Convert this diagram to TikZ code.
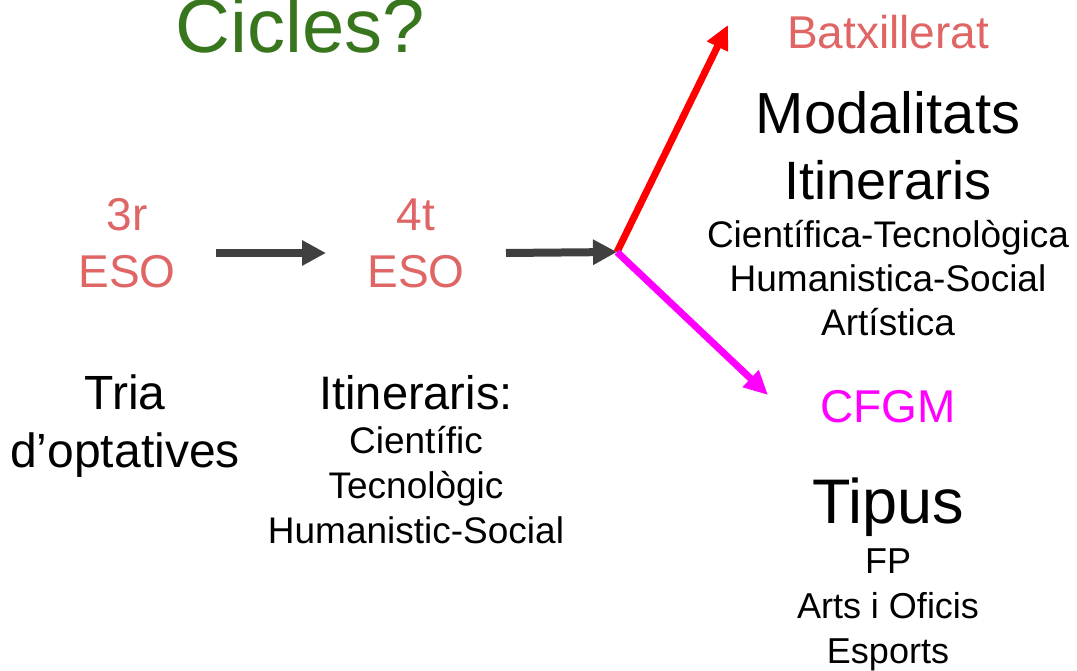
\documentclass[tikz,border=0pt]{standalone}
\usepackage{fontspec}
\setmainfont{Liberation Sans}
\usepackage{tikz}
\usetikzlibrary{arrows.meta}
\definecolor{titlegreen}{HTML}{38761D}
\definecolor{salmon}{HTML}{E06666}
\definecolor{darkgray}{HTML}{404040}
\definecolor{pinkline}{HTML}{FF00FF}
\tikzset{
    txt/.style={anchor=base, inner sep=0pt, align=center},
    stage/.style={txt, text=salmon, font=\fontsize{46}{58}\selectfont},
    big/.style={txt, font=\fontsize{#1}{#1}\selectfont},
    small/.style={txt, font=\fontsize{37}{45}\selectfont},
    grayarrow/.style={darkgray, line width=8pt, -{Triangle[length=24pt,width=24pt]}},
    fork/.style={line width=7pt, -{Triangle[length=24pt,width=22pt]}}}

\begin{document}
\begin{tikzpicture}[x=1pt, y=-1pt]

            \useasboundingbox (0,0) rectangle (1077,671);

            % multi-line nodes sit on the baseline of their last line
            \node[big=76, text=titlegreen] (T) at (300,53) {Cicles?};

            \node[stage] (A) at (127,288) {3r\\ESO};
            \node[stage] (B) at (416,288) {4t\\ESO};
            \node[big=48, font=\fontsize{48}{58}\selectfont] (A2) at (125,467) {Tria\\d’optatives};
            \node[big=47] (B2) at (416,409) {Itineraris:};
            \node[small] (B3) at (416,543) {Científic\\Tecnològic\\Humanistic-Social};

            \node[stage] (D) at (888,49) {Batxillerat};
            \node[big=58] (D1) at (888,134) {Modalitats};
            \node[big=54] (D2) at (888,200) {Itineraris};
            \node[small, font=\fontsize{37}{44}\selectfont] (D3) at (888,335) {Científica-Tecnològica\\Humanistica-Social\\Artística};

            \node[stage, text=pinkline] (E) at (888,422) {CFGM};
            \node[big=63] (E1) at (888,523) {Tipus};
            \node[small, font=\fontsize{36}{45}\selectfont] (E2) at (888,663) {FP\\Arts i Oficis\\Esports};

            \coordinate (a1) at (216,253);
            \coordinate (b1) at (326,253);
            \coordinate (a2) at (506,253);
            \coordinate (C) at (617,252);
            \coordinate (d) at (728,25);
            \coordinate (e) at (768,395);

            \draw[grayarrow] (a1) -- (b1);
            \draw[grayarrow] (a2) -- (C);
            \draw[fork, red] (C) -- (d);
            \draw[fork, pinkline] (C) -- (e);

        \end{tikzpicture}
\end{document}
